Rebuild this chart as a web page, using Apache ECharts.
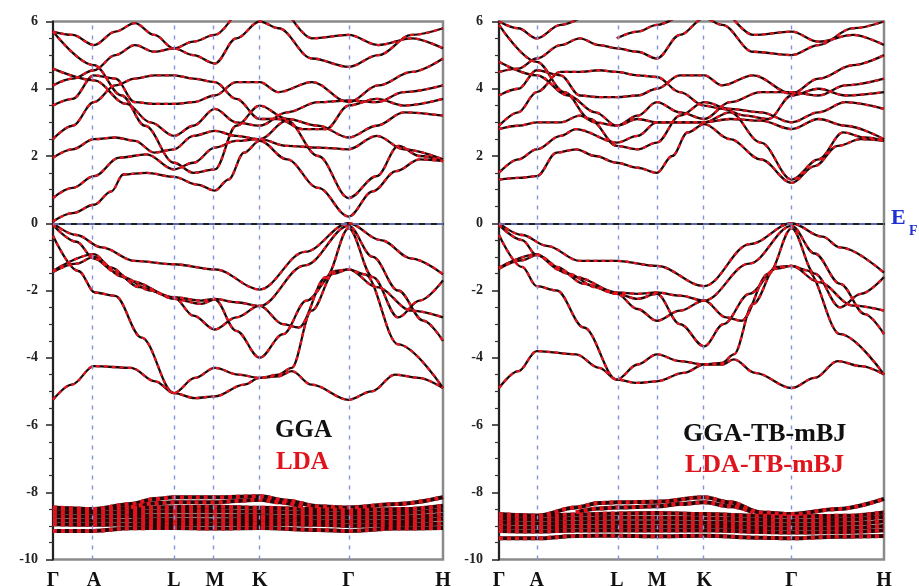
<!DOCTYPE html>
<html>
<head>
<meta charset="utf-8">
<script src="https://cdn.jsdelivr.net/npm/echarts@6/dist/echarts.min.js"></script>
<style>
  html, body { margin: 0; padding: 0; background: #fff; }
  #main { width: 919px; height: 586px; }
</style>
</head>
<body>
<div id="main"></div>
<script>
// High-symmetry points along the k-path (fraction of path length) and their labels
const kLabels = ['Γ', 'A', 'L', 'M', 'K', 'Γ', 'H'];
const kPosGGA = [0, 0.105, 0.31, 0.415, 0.53, 0.758, 1];
const kPosMBJ = [0, 0.098, 0.306, 0.41, 0.533, 0.76, 1];

// Energy axis ticks (eV, relative to E_F)
const energyTicks = [-10, -8, -6, -4, -2, 0, 2, 4, 6];

const methodsLeft = ['GGA', 'LDA'];
const methodsRight = ['GGA-TB-mBJ', 'LDA-TB-mBJ'];

// ---- GGA / LDA bands: [k, E] ----
const ggaValence = [
  [[0,0],[0.06,-0.35],[0.125,-0.72],[0.21,-1.12],[0.31,-1.22],[0.415,-1.37],[0.53,-1.97],[0.646,-0.85],[0.758,0],[0.84,-0.5],[0.92,-1.05],[1,-1.52]],
  [[0,-0.37],[0.065,-1.42],[0.108,-2.06],[0.159,-2.16],[0.227,-3.4],[0.31,-5.05],[0.364,-5.2],[0.415,-5.15],[0.49,-4.8],[0.53,-4.6],[0.578,-4.5],[0.612,-4.3],[0.663,-2.6],[0.723,-1.42],[0.758,-1.37],[0.8,-1.52],[0.885,-3.6],[1,-4.9]],
  [[0,-1.42],[0.105,-0.92],[0.15,-1.32],[0.2,-1.72],[0.31,-2.2],[0.38,-2.3],[0.415,-2.25],[0.47,-2.35],[0.53,-2.46],[0.646,-1.25],[0.758,-0.08],[0.82,-1.0],[0.885,-2.0],[0.95,-2.9],[1,-3.5]],
  [[0,-0.05],[0.06,-0.55],[0.105,-1.05],[0.16,-1.45],[0.22,-1.9],[0.31,-2.2],[0.36,-2.75],[0.415,-3.16],[0.47,-2.8],[0.53,-2.46],[0.59,-3.0],[0.63,-3.1],[0.7,-1.6],[0.758,-0.15],[0.82,-1.6],[0.885,-2.8],[0.94,-2.3],[1,-1.7]],
  [[0,-1.45],[0.06,-1.2],[0.105,-1.0],[0.18,-1.6],[0.25,-2.0],[0.31,-2.25],[0.38,-2.4],[0.415,-2.27],[0.47,-3.2],[0.53,-4.0],[0.59,-3.3],[0.65,-2.3],[0.72,-1.5],[0.758,-1.37],[0.83,-1.9],[0.92,-2.6],[1,-2.8]],
  [[0,-5.25],[0.048,-4.8],[0.105,-4.25],[0.2,-4.3],[0.262,-4.7],[0.31,-5.05],[0.364,-4.6],[0.415,-4.3],[0.475,-4.5],[0.53,-4.6],[0.578,-4.55],[0.612,-4.4],[0.663,-4.8],[0.758,-5.25],[0.817,-5.0],[0.877,-4.5],[0.937,-4.6],[1,-4.9]]
];
const ggaConduction = [
  [[0,0.05],[0.05,0.3],[0.105,0.55],[0.15,0.95],[0.18,1.45],[0.24,1.5],[0.31,1.38],[0.37,1.15],[0.415,0.97],[0.45,1.3],[0.49,2.1],[0.53,2.45],[0.6,1.9],[0.68,1.05],[0.758,0.2],[0.82,0.95],[0.88,1.55],[0.94,1.9],[1,1.85]],
  [[0,0.75],[0.05,1.05],[0.105,1.4],[0.17,1.95],[0.24,2.05],[0.31,1.6],[0.36,1.8],[0.415,2.25],[0.47,2.45],[0.53,2.5],[0.6,3.05],[0.68,2.0],[0.758,0.75],[0.83,1.4],[0.886,2.3],[0.94,2.0],[1,1.85]],
  [[0,1.95],[0.05,2.2],[0.105,2.5],[0.16,2.55],[0.21,2.45],[0.26,2.1],[0.31,2.2],[0.36,2.6],[0.415,2.75],[0.47,2.6],[0.53,2.5],[0.6,2.3],[0.68,2.25],[0.758,2.2],[0.83,2.6],[0.9,2.2],[1,1.9]],
  [[0,5.7],[0.105,4.7],[0.176,3.8],[0.236,2.9],[0.31,1.8],[0.36,1.5],[0.415,1.6],[0.47,2.9],[0.53,3.5],[0.6,3.1],[0.68,2.9],[0.758,2.55],[0.83,2.9],[0.9,3.3],[1,3.2]],
  [[0,2.5],[0.05,2.9],[0.105,3.6],[0.16,4.1],[0.21,4.3],[0.26,4.4],[0.31,4.4],[0.36,4.3],[0.415,4.2],[0.47,3.7],[0.53,3.1],[0.578,3.1],[0.64,2.8],[0.7,2.8],[0.758,3.5],[0.83,3.7],[0.9,3.5],[1,3.7]],
  [[0,3.5],[0.05,3.7],[0.105,4.4],[0.16,4.3],[0.21,3.6],[0.26,3.55],[0.31,3.55],[0.36,3.6],[0.415,3.8],[0.47,4.2],[0.53,4.2],[0.578,3.9],[0.664,4.2],[0.758,3.6],[0.834,4.1],[0.92,4.5],[1,4.9]],
  [[0,4.1],[0.05,4.3],[0.105,4.55],[0.16,5.0],[0.21,5.3],[0.26,5.1],[0.31,5.2],[0.36,5.0],[0.415,4.75],[0.47,5.5],[0.53,6.0],[0.578,5.8],[0.664,4.9],[0.758,4.65],[0.834,5.0],[0.92,5.6],[1,5.8]],
  [[0,4.6],[0.105,4.25],[0.188,3.55],[0.25,3.0],[0.31,2.6],[0.36,2.9],[0.415,3.4],[0.47,3.0],[0.53,2.9],[0.6,3.3],[0.68,3.6],[0.758,3.65],[0.83,3.6],[0.9,3.9],[1,4.1]],
  [[0,5.7],[0.05,5.6],[0.105,5.3],[0.16,5.7],[0.21,5.95],[0.26,5.6],[0.31,5.2],[0.36,5.4],[0.415,5.6],[0.47,6.3]],
  [[0.6,6.3],[0.664,5.5],[0.758,5.6],[0.834,5.3],[0.92,5.5],[1,5.2]]
];
const ggaSemicore = [
  [[0,-8.45],[0.105,-8.5],[0.2,-8.35],[0.26,-8.2],[0.31,-8.15],[0.415,-8.15],[0.53,-8.12],[0.6,-8.25],[0.68,-8.42],[0.758,-8.45],[0.88,-8.35],[1,-8.15]],
  [[0.2,-8.45],[0.26,-8.33],[0.31,-8.3],[0.415,-8.3],[0.47,-8.26],[0.53,-8.22],[0.58,-8.3],[0.64,-8.44]],
  [[0,-8.47],[0.105,-8.5],[0.2,-8.47],[0.31,-8.44],[0.415,-8.43],[0.53,-8.46],[0.68,-8.5],[0.758,-8.53],[0.9,-8.5],[1,-8.4]],
  [[0,-8.59],[0.105,-8.61],[0.2,-8.59],[0.31,-8.56],[0.415,-8.56],[0.53,-8.58],[0.68,-8.62],[0.758,-8.64],[0.9,-8.62],[1,-8.53]],
  [[0,-8.71],[0.105,-8.73],[0.2,-8.71],[0.31,-8.69],[0.415,-8.69],[0.53,-8.71],[0.68,-8.74],[0.758,-8.76],[0.9,-8.74],[1,-8.66]],
  [[0,-8.83],[0.105,-8.85],[0.2,-8.83],[0.31,-8.82],[0.415,-8.83],[0.53,-8.82],[0.68,-8.86],[0.758,-8.88],[0.9,-8.86],[1,-8.79]],
  [[0,-8.95],[0.105,-8.97],[0.2,-8.95],[0.31,-8.94],[0.415,-8.95],[0.53,-8.94],[0.68,-8.97],[0.758,-9.0],[0.9,-8.97],[1,-8.93]],
  [[0,-9.15],[0.105,-9.15],[0.2,-9.07],[0.31,-9.06],[0.415,-9.08],[0.53,-9.06],[0.68,-9.12],[0.758,-9.15],[0.88,-9.08],[1,-9.06]]
];

// ---- TB-mBJ bands: [k, E] ----
const mbjValence = [
  [[0,0],[0.06,-0.35],[0.124,-0.67],[0.21,-1.12],[0.306,-1.12],[0.41,-1.27],[0.533,-1.87],[0.652,-0.62],[0.76,0],[0.84,-0.4],[0.886,-0.72],[1,-1.47]],
  [[0,-0.35],[0.06,-1.3],[0.098,-1.87],[0.15,-2.0],[0.22,-3.1],[0.306,-4.65],[0.36,-4.75],[0.41,-4.7],[0.48,-4.45],[0.533,-4.2],[0.58,-4.15],[0.61,-3.9],[0.66,-2.4],[0.72,-1.3],[0.76,-1.27],[0.8,-1.4],[0.886,-3.3],[1,-4.5]],
  [[0,-1.32],[0.098,-0.92],[0.15,-1.3],[0.2,-1.6],[0.306,-2.06],[0.36,-2.1],[0.41,-2.06],[0.47,-2.15],[0.533,-2.3],[0.65,-1.2],[0.76,-0.08],[0.82,-0.9],[0.886,-1.8],[0.95,-2.7],[1,-3.3]],
  [[0,-0.05],[0.06,-0.5],[0.098,-0.95],[0.16,-1.4],[0.22,-1.8],[0.306,-2.1],[0.36,-2.55],[0.41,-2.9],[0.47,-2.6],[0.533,-2.3],[0.59,-2.8],[0.63,-2.9],[0.7,-1.5],[0.76,-0.15],[0.82,-1.5],[0.886,-2.5],[0.94,-2.1],[1,-1.6]],
  [[0,-1.35],[0.06,-1.1],[0.098,-0.95],[0.18,-1.5],[0.25,-1.9],[0.306,-2.1],[0.36,-2.25],[0.41,-2.1],[0.47,-3.0],[0.533,-3.66],[0.583,-3.0],[0.65,-2.1],[0.72,-1.35],[0.76,-1.27],[0.83,-1.75],[0.92,-2.45],[1,-2.6]],
  [[0,-4.9],[0.05,-4.4],[0.098,-3.8],[0.2,-3.9],[0.26,-4.3],[0.306,-4.65],[0.36,-4.2],[0.41,-3.9],[0.47,-4.1],[0.533,-4.2],[0.58,-4.2],[0.61,-4.05],[0.665,-4.45],[0.76,-4.9],[0.82,-4.6],[0.88,-4.1],[0.94,-4.25],[1,-4.5]]
];
const mbjConduction = [
  [[0,1.3],[0.05,1.35],[0.098,1.4],[0.15,2.1],[0.2,2.2],[0.25,2.0],[0.306,1.8],[0.36,1.65],[0.41,1.5],[0.45,2.0],[0.49,2.7],[0.533,2.95],[0.6,2.5],[0.68,1.9],[0.76,1.2],[0.82,1.7],[0.88,2.3],[0.94,2.5],[1,2.45]],
  [[0,1.5],[0.05,1.9],[0.098,2.2],[0.16,2.6],[0.2,2.8],[0.306,2.4],[0.36,2.6],[0.41,3.0],[0.47,3.0],[0.533,3.0],[0.6,3.3],[0.68,2.4],[0.76,1.3],[0.83,1.9],[0.894,2.7],[0.95,2.55],[1,2.45]],
  [[0,2.8],[0.05,2.9],[0.098,3.0],[0.16,3.0],[0.21,3.2],[0.25,3.0],[0.306,2.9],[0.36,3.1],[0.41,3.0],[0.47,3.0],[0.533,3.0],[0.6,3.1],[0.68,3.05],[0.76,2.8],[0.83,3.1],[0.9,2.9],[1,2.5]],
  [[0,5.9],[0.098,4.8],[0.17,3.9],[0.236,3.1],[0.306,2.3],[0.36,2.2],[0.41,2.4],[0.47,3.2],[0.533,3.6],[0.6,3.4],[0.68,3.3],[0.76,3.0],[0.83,3.3],[0.9,3.6],[1,3.4]],
  [[0,2.9],[0.05,3.3],[0.098,3.9],[0.16,4.5],[0.21,4.5],[0.26,4.55],[0.306,4.5],[0.36,4.4],[0.41,4.35],[0.47,3.9],[0.533,3.5],[0.58,3.4],[0.64,3.2],[0.7,3.1],[0.76,3.8],[0.83,4.0],[0.9,3.8],[1,3.9]],
  [[0,3.8],[0.05,4.0],[0.098,4.55],[0.16,4.4],[0.21,3.8],[0.26,3.75],[0.306,3.75],[0.36,3.8],[0.41,4.0],[0.47,4.4],[0.533,4.4],[0.58,4.1],[0.66,4.4],[0.76,3.85],[0.83,4.3],[0.92,4.7],[1,5.0]],
  [[0,4.5],[0.05,4.6],[0.098,4.9],[0.16,5.3],[0.21,5.5],[0.26,5.3],[0.306,5.2],[0.36,5.1],[0.41,4.9],[0.47,5.6],[0.533,6.1],[0.58,5.9],[0.66,5.1],[0.76,5.0],[0.83,5.3],[0.92,5.8],[1,6.0]],
  [[0,4.8],[0.098,4.4],[0.18,3.8],[0.25,3.3],[0.306,2.9],[0.36,3.2],[0.41,3.6],[0.47,3.3],[0.533,3.1],[0.6,3.6],[0.68,3.9],[0.76,3.9],[0.83,3.8],[0.9,4.1],[1,4.3]],
  [[0,6.0],[0.05,5.8],[0.098,5.5],[0.16,5.9],[0.21,6.1]],
  [[0.306,5.5],[0.36,5.7],[0.41,5.9],[0.47,6.2]],
  [[0.6,6.2],[0.66,5.6],[0.76,5.7],[0.83,5.4],[0.92,5.6],[1,5.3]]
];
const mbjSemicore = [
  [[0,-8.65],[0.098,-8.7],[0.2,-8.45],[0.26,-8.32],[0.306,-8.3],[0.41,-8.28],[0.533,-8.15],[0.6,-8.3],[0.68,-8.6],[0.76,-8.65],[0.88,-8.5],[1,-8.2]],
  [[0.2,-8.6],[0.26,-8.48],[0.306,-8.45],[0.41,-8.42],[0.47,-8.35],[0.533,-8.3],[0.6,-8.42],[0.66,-8.6]],
  [[0,-8.67],[0.098,-8.7],[0.2,-8.66],[0.306,-8.63],[0.41,-8.62],[0.533,-8.65],[0.68,-8.7],[0.76,-8.72],[0.9,-8.7],[1,-8.6]],
  [[0,-8.79],[0.098,-8.81],[0.2,-8.78],[0.306,-8.76],[0.41,-8.76],[0.533,-8.77],[0.68,-8.82],[0.76,-8.84],[0.9,-8.82],[1,-8.73]],
  [[0,-8.91],[0.098,-8.93],[0.2,-8.9],[0.306,-8.89],[0.41,-8.89],[0.533,-8.9],[0.68,-8.94],[0.76,-8.96],[0.9,-8.94],[1,-8.86]],
  [[0,-9.03],[0.098,-9.05],[0.2,-9.02],[0.306,-9.01],[0.41,-9.02],[0.533,-9.01],[0.68,-9.06],[0.76,-9.08],[0.9,-9.06],[1,-9.0]],
  [[0,-9.15],[0.098,-9.17],[0.2,-9.14],[0.306,-9.13],[0.41,-9.14],[0.533,-9.13],[0.68,-9.18],[0.76,-9.2],[0.9,-9.18],[1,-9.13]],
  [[0,-9.37],[0.098,-9.37],[0.2,-9.3],[0.306,-9.29],[0.41,-9.31],[0.533,-9.29],[0.68,-9.35],[0.76,-9.37],[0.88,-9.32],[1,-9.3]]
];

const chart = echarts.init(document.getElementById('main'), null, { renderer: 'canvas' });

const BLACK = '#1b0a0a';
const RED = '#e3141e';
const GUIDE = '#8492dc';

function bandSeries(bands, gi, names, width, dash) {
  const out = [];
  bands.forEach(function (b) {
    out.push({
      name: names[0], type: 'line', xAxisIndex: gi, yAxisIndex: gi, data: b,
      smooth: 0.35, smoothMonotone: 'x', showSymbol: false, silent: true, clip: true,
      lineStyle: { color: BLACK, width: width }, z: 3
    });
    out.push({
      name: names[1], type: 'line', xAxisIndex: gi, yAxisIndex: gi, data: b,
      smooth: 0.35, smoothMonotone: 'x', showSymbol: false, silent: true, clip: true,
      lineStyle: { color: RED, width: width, type: dash }, z: 4
    });
  });
  return out;
}

function guideSeries(gi, kPos) {
  const vertical = kPos.slice(1, -1).map(function (k) { return { xAxis: k }; });
  return {
    type: 'line', xAxisIndex: gi, yAxisIndex: gi, data: [], silent: true, z: 1,
    markLine: {
      silent: true, symbol: 'none', animation: false,
      label: { show: false },
      lineStyle: { color: GUIDE, width: 1.4, type: [4, 6] },
      data: vertical.concat([{ yAxis: 0, lineStyle: { color: '#6f80d8', width: 1.5, type: [6, 6] } }])
    }
  };
}

function xAxisFor(gi, kPos) {
  return {
    type: 'value', gridIndex: gi, min: 0, max: 1,
    axisLine: { show: true, lineStyle: { color: '#222', width: 2 } },
    axisTick: { show: false },
    splitLine: { show: false },
    axisLabel: {
      customValues: kPos,
      margin: 11,
      fontFamily: 'Liberation Serif', fontWeight: 'bold', fontSize: 20, color: '#111',
      formatter: function (v) {
        let best = 0;
        kPos.forEach(function (k, i) { if (Math.abs(k - v) < Math.abs(kPos[best] - v)) best = i; });
        return kLabels[best];
      }
    }
  };
}

function yAxisFor(gi, margin) {
  return {
    type: 'value', gridIndex: gi, min: energyTicks[0], max: energyTicks[energyTicks.length - 1], interval: 2,
    axisLine: { show: true, lineStyle: { color: '#222', width: 2 } },
    axisTick: { show: true, length: 7, lineStyle: { color: '#222', width: 1.5 } },
    minorTick: { show: true, splitNumber: 4, length: 4, lineStyle: { color: '#333', width: 1.2 } },
    splitLine: { show: false },
    axisLabel: {
      margin: margin, fontFamily: 'Liberation Serif', fontWeight: 'bold', fontSize: 14, color: '#222',
      formatter: function (v) { return String(v); }
    }
  };
}

const series = [].concat(
  [guideSeries(0, kPosGGA), guideSeries(1, kPosMBJ)],
  bandSeries(ggaValence, 0, methodsLeft, 2.3, [4, 4]),
  bandSeries(ggaConduction, 0, methodsLeft, 2.3, [4, 4]),
  bandSeries(ggaSemicore, 0, methodsLeft, 4, [4, 4]),
  bandSeries(mbjValence, 1, methodsRight, 2.3, [4, 4]),
  bandSeries(mbjConduction, 1, methodsRight, 2.3, [4, 4]),
  bandSeries(mbjSemicore, 1, methodsRight, 4, [4, 4])
);

const legendFont = { fontFamily: 'Liberation Serif', fontWeight: 'bold', fontSize: 25 };

chart.setOption({
  animation: false,
  backgroundColor: '#ffffff',
  grid: [
    { left: 53, top: 21.5, width: 390, height: 538, outerBoundsMode: 'none', containLabel: false, show: true, borderColor: '#8a8a8a', borderWidth: 2.5, backgroundColor: 'transparent' },
    { left: 499, top: 21.5, width: 385, height: 538, outerBoundsMode: 'none', containLabel: false, show: true, borderColor: '#8a8a8a', borderWidth: 2.5, backgroundColor: 'transparent' }
  ],
  xAxis: [xAxisFor(0, kPosGGA), xAxisFor(1, kPosMBJ)],
  yAxis: [yAxisFor(0, 15), yAxisFor(1, 16)],
  series: series,
  graphic: [
    { type: 'text', left: 275, top: 418, z: 10, style: Object.assign({ text: methodsLeft[0], fill: '#111' }, legendFont) },
    { type: 'text', left: 276, top: 450, z: 10, style: Object.assign({ text: methodsLeft[1], fill: '#e0141c' }, legendFont) },
    { type: 'text', left: 683, top: 421, z: 10, style: { text: methodsRight[0], fill: '#111', fontFamily: 'Liberation Serif', fontWeight: 'bold', fontSize: 26 } },
    { type: 'text', left: 685, top: 452, z: 10, style: { text: methodsRight[1], fill: '#e0141c', fontFamily: 'Liberation Serif', fontWeight: 'bold', fontSize: 26 } },
    { type: 'text', left: 891, top: 207, z: 10, style: { text: 'E', fill: '#1f2fd8', fontFamily: 'Liberation Serif', fontWeight: 'bold', fontSize: 22 } },
    { type: 'text', left: 909, top: 224, z: 10, style: { text: 'F', fill: '#1f2fd8', fontFamily: 'Liberation Serif', fontWeight: 'bold', fontSize: 14 } }
  ]
});
</script>
</body>
</html>
